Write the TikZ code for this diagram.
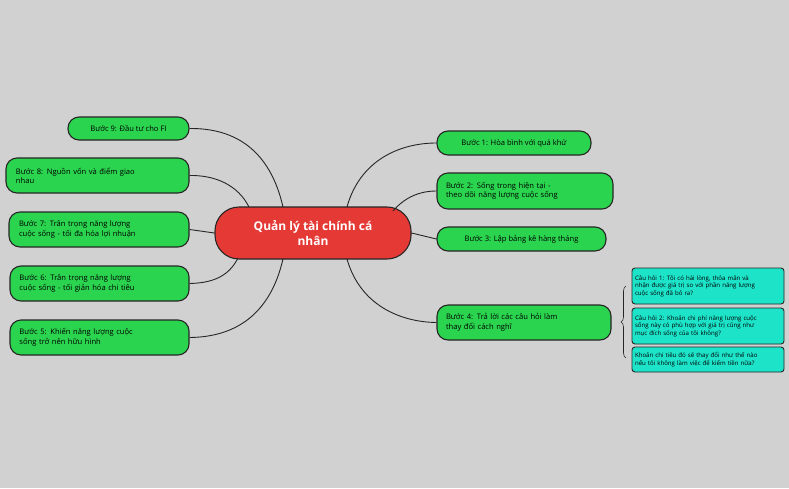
\documentclass[tikz,border=0pt]{standalone}
\usepackage{fontspec}
\setmainfont{Open Sans}
\usetikzlibrary{decorations.pathreplacing}
\definecolor{bg}{HTML}{D1D1D1}
\definecolor{gr}{HTML}{2BD44F}
\definecolor{rd}{HTML}{E53935}
\definecolor{cy}{HTML}{1DE3C9}
\begin{document}
\begin{tikzpicture}[x=1pt,y=-1pt,
 stepbox/.style={draw=black!85,line width=1.1pt,fill=gr,rounded corners=11pt,font=\fontsize{7.6}{9.5}\selectfont,align=left,inner sep=0pt,anchor=center},
 qbox/.style={draw=black!85,line width=0.9pt,fill=cy,rounded corners=3pt,font=\fontsize{6.1}{7.6}\selectfont,align=left,inner sep=0pt,anchor=center,minimum width=152pt},
 link/.style={line width=0.9pt,black!85}]
\fill[bg] (0,0) rectangle (789,488);
\useasboundingbox (0,0) rectangle (789,488);
\node[draw=black!85,line width=1.1pt,fill=rd,rounded corners=24pt,minimum width=196pt,minimum height=52pt,text=white,font=\bfseries\fontsize{12}{15}\selectfont,align=center] (c) at (313,233) {Quản lý tài chính cá\\nhân};
\node[stepbox,minimum width=121pt,minimum height=23pt] (b9) at (128.5,128.5) {Bước 9: Đầu tư cho FI};
\node[stepbox,minimum width=183pt,minimum height=35pt,text width=163pt] (b8) at (97.5,175.5) {Bước 8: Nguồn vốn và điểm giao\\nhau};
\node[stepbox,minimum width=180pt,minimum height=35pt,text width=160pt] (b7) at (99,229.5) {Bước 7: Trân trọng năng lượng\\cuộc sống - tối đa hóa lợi nhuận};
\node[stepbox,minimum width=179pt,minimum height=35pt,text width=160pt] (b6) at (99.5,283.5) {Bước 6: Trân trọng năng lượng\\cuộc sống - tối giản hóa chi tiêu};
\node[stepbox,minimum width=179pt,minimum height=35pt,text width=160pt] (b5) at (99.5,337.5) {Bước 5: Khiến năng lượng cuộc\\sống trở nên hữu hình};
\node[stepbox,minimum width=154pt,minimum height=24pt] (b1) at (514,143) {Bước 1: Hòa bình với quá khứ};
\node[stepbox,minimum width=176pt,minimum height=36pt,text width=158pt] (b2) at (525,191) {Bước 2: Sống trong hiện tại -\\theo dõi năng lượng cuộc sống};
\node[stepbox,minimum width=169pt,minimum height=24pt] (b3) at (521.5,239) {Bước 3: Lập bảng kê hàng tháng};
\node[stepbox,minimum width=174pt,minimum height=35pt,text width=156pt] (b4) at (524,322.5) {Bước 4: Trả lời các câu hỏi làm\\thay đổi cách nghĩ};
\node[qbox,minimum height=36pt,text width=146pt] (q1) at (708,286) {Câu hỏi 1: Tôi có hài lòng, thỏa mãn và\\nhận được giá trị so với phần năng lượng\\cuộc sống đã bỏ ra?};
\node[qbox,minimum height=36pt,text width=146pt] (q2) at (708,326) {Câu hỏi 2: Khoản chi phí năng lượng cuộc\\sống này có phù hợp với giá trị cũng như\\mục đích sống của tôi không?};
\node[qbox,minimum height=25pt,text width=146pt] (q3) at (708,359.5) {Khoản chi tiêu đó sẽ thay đổi như thế nào\\nếu tôi không làm việc để kiếm tiền nữa?};
\coordinate (c9) at (283,207); \coordinate (c8) at (249,207);
\coordinate (c6) at (238,258); \coordinate (c5) at (283,259);
\coordinate (c1) at (347,207); \coordinate (c2) at (393,211);
\coordinate (c4) at (347,259);
\coordinate (br1) at (626,286); \coordinate (br2) at (626,358);
\draw[link] (c9) .. controls (270,150) and (235,128) .. (b9.east);
\draw[link] (c8) .. controls (238,185) and (215,175) .. (b8.east);
\draw[link] (c.west) -- (b7.east);
\draw[link] (c6) .. controls (228,278) and (210,283) .. (b6.east);
\draw[link] (c5) .. controls (270,315) and (235,337) .. (b5.east);
\draw[link] (c1) .. controls (360,160) and (400,143) .. (b1.west);
\draw[link] (c2) .. controls (405,197) and (420,191) .. (b2.west);
\draw[link] (c.east) -- (b3.west);
\draw[link] (c4) .. controls (360,305) and (400,322) .. (b4.west);
\draw[line width=0.6pt,black!85,decorate,decoration={brace,amplitude=5pt,mirror}] (br1) -- (br2);
\end{tikzpicture}
\end{document}
